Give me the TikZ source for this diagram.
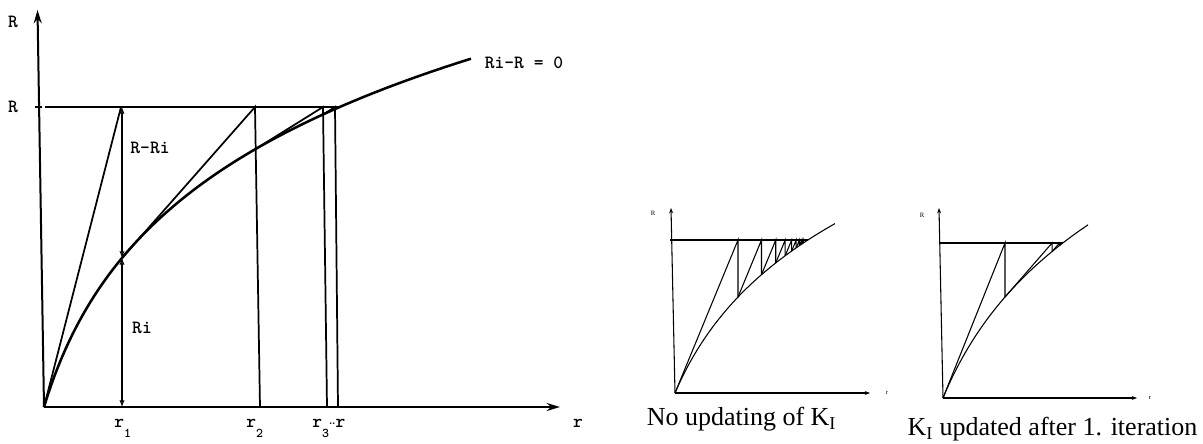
\documentclass[tikz,border=0pt]{standalone}
\usepackage{fontspec}
\usepackage{tikz}
\usetikzlibrary{arrows.meta}
\newfontfamily\capfont{Liberation Serif}
\newcommand{\lowsub}[1]{\raisebox{-8pt}{\fontsize{10}{12}\selectfont #1}}

\begin{document}
\begin{tikzpicture}[x=0.75pt,y=0.75pt,
        declare function={fmain(\x)=148.2*ln(1+\x/45);
                          fnone(\x)=119.3*ln(1+\x/51);
                          fupd(\x)=135.5*ln(1+\x/56);},
        axisline/.style={line width=1.5pt},
        iter/.style={line width=1.3pt},
        rcurve/.style={line width=1.9pt},
        dimline/.style={line width=0.9pt,{Latex[open,length=5pt,width=4pt]}-{Latex[open,length=5pt,width=4pt]}},
        lbl/.style={font=\fontsize{14}{16}\selectfont\ttfamily\bfseries,inner sep=0pt},
        thinline/.style={line width=0.8pt},
        tinylbl/.style={font=\capfont\fontsize{5}{6}\selectfont,inner sep=0pt},
        capt/.style={font=\capfont\fontsize{19.5}{22}\selectfont,inner sep=0pt,anchor=base}]
        \useasboundingbox (0,0) rectangle (1203,443);
        % main plot
        \begin{scope}[shift={(44,36)}]
            \coordinate (o) at (0,0);
            \coordinate (xtip) at (516,0);
            \coordinate (ytip) at (-6.5,397);
            \draw[axisline,-{Stealth[length=10pt,width=6pt]}] (o) -- (xtip);
            \draw[axisline,-{Stealth[open,length=10pt,width=6pt]}] (o) -- (ytip);
            \draw[iter] (-9,300) -- (-2,300);
            \draw[iter] (1,300) -- (295.7,300);
            \draw[rcurve] plot[domain=0:427,samples=120] (\x,{fmain(\x)});
            \coordinate (t1) at (77,300);
            \coordinate (t2) at (211,300);
            \coordinate (t3) at (279,300);
            \coordinate (t4) at (291,300);
            \coordinate (c1) at (78,{fmain(78)});
            \coordinate (c2) at (212,{fmain(212)});
            \coordinate (c3) at (280,{fmain(280)});
            \coordinate (b1) at (78,0);
            \coordinate (b2) at (216,0);
            \coordinate (b3) at (283,0);
            \coordinate (b4) at (294,0);
            \draw[iter] (o) -- (t1);
            \draw[iter] (c1) -- (t2) -- (b2);
            \draw[iter] (c2) -- (t3) -- (b3);
            \draw[iter] (c3) -- (t4) -- (b4);
            \draw[dimline] (78,300) -- (c1);
            \draw[dimline] (c1) -- (b1);
            \node[lbl] (lRtop) at (-31,385) {R};
            \node[lbl] (lR) at (-31,300) {R};
            \node[lbl] (lRRi) at (106,259) {R-Ri};
            \node[lbl] (lRi) at (98,79) {Ri};
            \node[lbl,anchor=base west] (lr1) at (70,-20) {r\lowsub{1}};
            \node[lbl,anchor=base west] (lr2) at (202,-20) {r\lowsub{2}};
            \node[lbl,anchor=base west] (lr3) at (268,-20) {r\lowsub{3}\kern-1pt\raisebox{.35ex}{\fontsize{9}{10}\selectfont.\kern-2.5pt.}\kern-1pt r};
            \node[lbl] (lr) at (534,-16) {r};
            \node[lbl] (lzero) at (480,344) {Ri-R = 0};
        \end{scope}
        % no updating
        \begin{scope}[shift={(675,50)}]
            \coordinate (ao) at (0,0);
            \draw[thinline,-{Stealth[length=4pt,width=3pt]}] (ao) -- (195,0);
            \draw[thinline,-{Stealth[length=4pt,width=3pt]}] (ao) -- (-4,185);
            \draw[thinline] (-5,153) -- (133,153);
            \draw[thinline] plot[domain=0:160,samples=80] (\x,{fnone(\x)});
            \foreach \xa/\xb in {0/63,63/86.49,86.49/100.77,100.77/110.20,110.20/116.67,
                                 116.67/121.20,121.20/124.42,124.42/126.74,126.74/128.41}
                \draw[thinline] (\xa,{fnone(\xa)}) -- (\xb,153) -- (\xb,{fnone(\xb)});
            \node[tinylbl] (aR) at (-22,180) {R};
            \node[tinylbl] (ar) at (212,0) {r};
        \end{scope}
        \node[capt] (capA) at (741.5,18) {No updating of K\textsubscript{I}};
        % updated after first iteration
        \begin{scope}[shift={(943,45)}]
            \coordinate (bo) at (0,0);
            \draw[thinline,-{Stealth[length=4pt,width=3pt]}] (bo) -- (194,0);
            \draw[thinline,-{Stealth[length=4pt,width=3pt]}] (bo) -- (-4,190);
            \draw[thinline] (-4,155) -- (120,155);
            \draw[thinline] plot[domain=0:145,samples=80] (\x,{fupd(\x)});
            \foreach \xa/\xb in {0/62,62/109.03,109.03/116.48,116.48/118.73}
                \draw[thinline] (\xa,{fupd(\xa)}) -- (\xb,155) -- (\xb,{fupd(\xb)});
            \node[tinylbl] (bR) at (-21,183) {R};
            \node[tinylbl] (br) at (207,0) {r};
        \end{scope}
        \node[capt] (capB) at (1052.5,8) {K\textsubscript{I} updated after 1. iteration};
\end{tikzpicture}
\end{document}
